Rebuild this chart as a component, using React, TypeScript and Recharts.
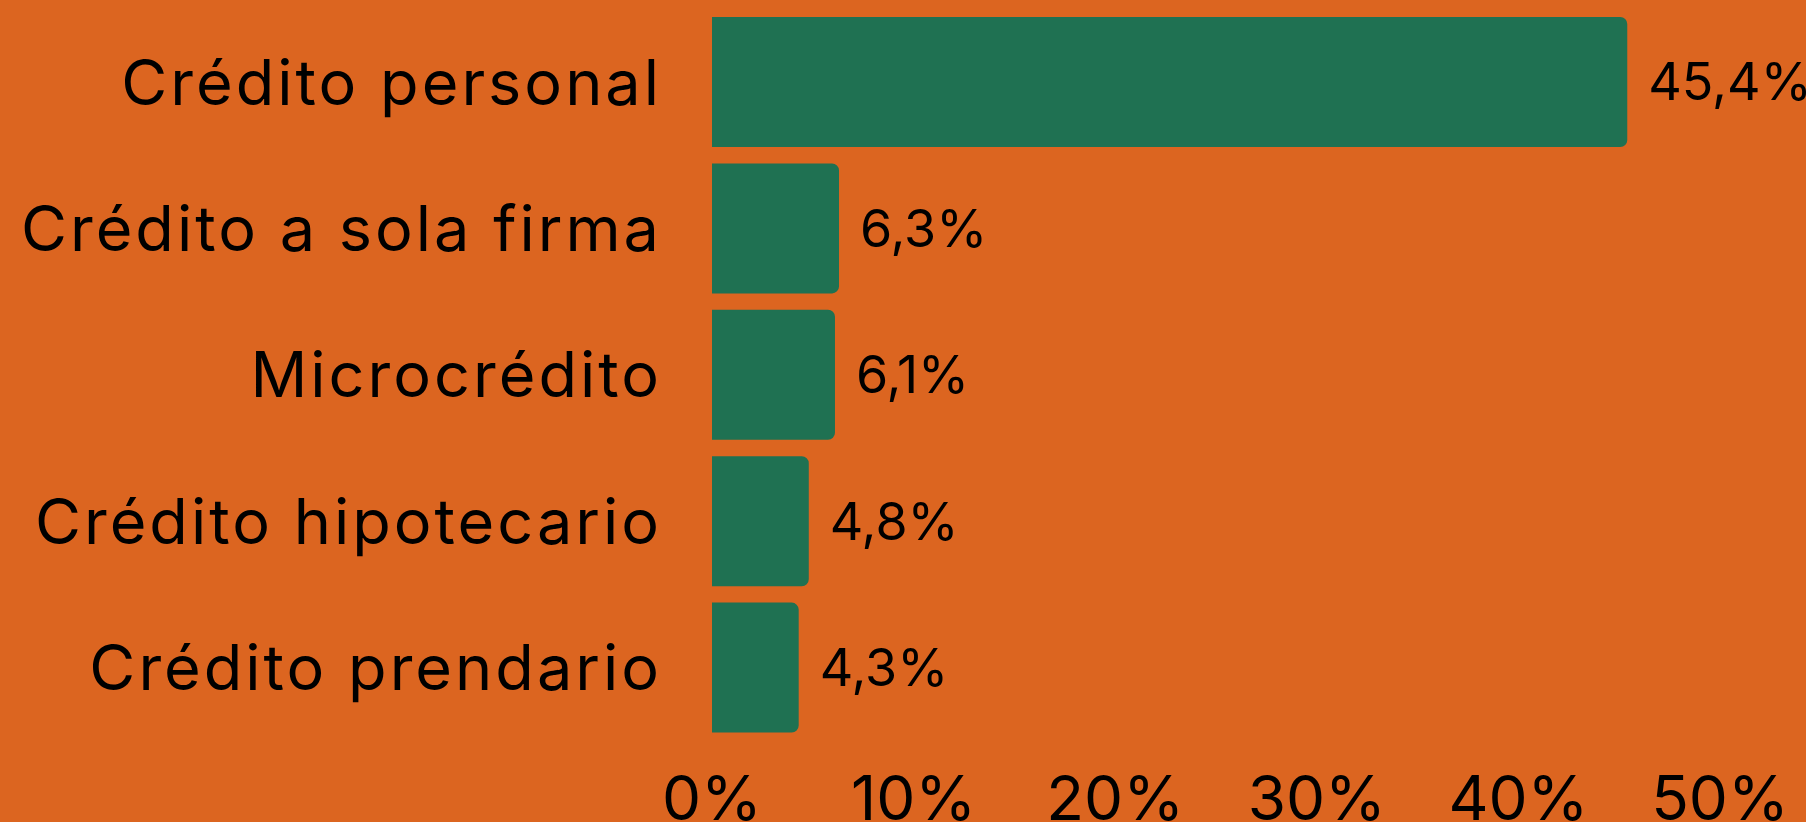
import { Bar, BarChart, LabelList, XAxis, YAxis } from "recharts"

// categorías (de arriba hacia abajo) y porcentaje de cada una
const categories = [
  "Crédito personal",
  "Crédito a sola firma",
  "Microcrédito",
  "Crédito hipotecario",
  "Crédito prendario",
]
const values = [45.4, 6.3, 6.1, 4.8, 4.3]
const xTicks = [0, 10, 20, 30, 40, 50]

const BG_COLOR = "#dc6520"
const BAR_COLOR = "#1f7152"
const TEXT_COLOR = "#000000"
const FONT = "Inter, 'Noto Sans', sans-serif"
const WIDTH = 1806
const HEIGHT = 822

const data = categories.map((name, i) => ({ name, value: values[i] }))

// 45.4 -> "45,4%"
const fmtPct = (v: number) => `${v.toFixed(1).replace(".", ",")}%`

export default function App() {
  return (
    <div
      style={{
        position: "absolute",
        left: 0,
        top: 0,
        width: WIDTH,
        height: HEIGHT,
        background: BG_COLOR,
        fontFamily: FONT,
        overflow: "hidden",
      }}
    >
      <BarChart
        width={WIDTH}
        height={HEIGHT}
        data={data}
        layout="vertical"
        margin={{ top: 9, right: 86, bottom: 0, left: 0 }}
        barCategoryGap={8}
      >
        <XAxis
          type="number"
          domain={[0, 50]}
          ticks={xTicks}
          interval={0}
          tickFormatter={(v) => `${v}%`}
          axisLine={false}
          tickLine={false}
          tickSize={0}
          tickMargin={35}
          height={81}
          tick={{ fontSize: 62, fill: TEXT_COLOR, fontFamily: FONT }}
        />
        {/* Inter es más angosta que la fuente original: se compensa con letterSpacing */}
        <YAxis
          type="category"
          dataKey="name"
          width={712}
          axisLine={false}
          tickLine={false}
          tickSize={0}
          tickMargin={50}
          interval={0}
          tick={{ fontSize: 63, fill: TEXT_COLOR, fontFamily: FONT, letterSpacing: 3 }}
        />
        <Bar dataKey="value" fill={BAR_COLOR} radius={[0, 7, 7, 0]} isAnimationActive={false}>
          <LabelList
            dataKey="value"
            position="right"
            offset={21}
            formatter={(v: number) => fmtPct(v)}
            style={{ fontSize: 52, fill: TEXT_COLOR, fontFamily: FONT }}
          />
        </Bar>
      </BarChart>
    </div>
  )
}
